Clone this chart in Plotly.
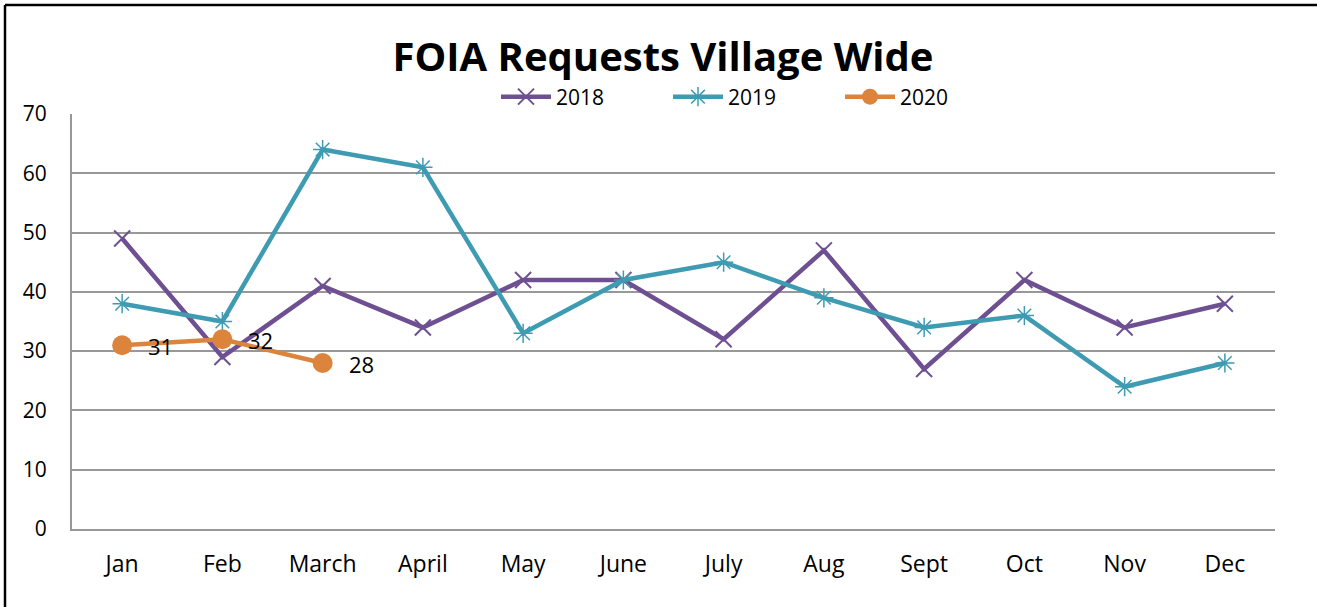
import plotly.graph_objects as go

months = ["Jan", "Feb", "March", "April", "May", "June", "July", "Aug", "Sept", "Oct", "Nov", "Dec"]
y2018 = [49, 29, 41, 34, 42, 42, 32, 47, 27, 42, 34, 38]
y2019 = [38, 35, 64, 61, 33, 42, 45, 39, 34, 36, 24, 28]
y2020 = [31, 32, 28]
yticks = [0, 10, 20, 30, 40, 50, 60, 70]

C18 = "#6E5092"
C19 = "#3E9BB2"
C20 = "#DD843C"
FONT = "Open Sans, sans-serif"

fig = go.Figure()
fig.add_trace(go.Scatter(x=months, y=y2018, name="2018", mode="lines+markers",
                         line=dict(color=C18, width=4.5),
                         marker=dict(symbol="x-thin", size=16, line=dict(color=C18, width=2), color=C18)))
fig.add_trace(go.Scatter(x=months, y=y2019, name="2019", mode="lines+markers",
                         line=dict(color=C19, width=4.5),
                         marker=dict(symbol="asterisk", size=16, line=dict(color=C19, width=1.5), color=C19)))
fig.add_trace(go.Scatter(x=months[:len(y2020)], y=y2020, name="2020", mode="lines+markers",
                         line=dict(color=C20, width=4.5),
                         marker=dict(symbol="circle", size=20, color=C20)))

for m, v in zip(months, y2020):
    fig.add_annotation(x=m, y=v, text=str(v), showarrow=False, xanchor="left",
                       xshift=24, yshift=-1, font=dict(size=22, color="#000000", family=FONT))

L, R, T, B = 72, 1275, 114, 529
W, H = 1317, 607
pw, ph = R - L, B - T
# outer chart border (left and top edges visible)
bx = (5 - L) / pw
by = 1 + (T - 5) / ph
fig.add_shape(type="line", xref="paper", yref="paper", x0=bx, x1=(W + 10 - L) / pw, y0=by, y1=by,
              line=dict(color="#000000", width=2.5))
fig.add_shape(type="line", xref="paper", yref="paper", x0=bx, x1=bx, y0=by, y1=-(H - B + 10) / ph,
              line=dict(color="#000000", width=2.5))

fig.update_layout(
    width=W, height=H,
    margin=dict(l=L, r=W - R, t=T, b=H - B, pad=0),
    paper_bgcolor="white", plot_bgcolor="white",
    title=dict(text="<b>FOIA Requests Village Wide</b>", x=663 / W, xanchor="center",
               y=1 - 57 / H, yanchor="middle", font=dict(size=40, color="#000000", family=FONT)),
    legend=dict(orientation="h", x=(496 - L) / pw, xanchor="left",
                y=1 + (T - 97) / ph, yanchor="middle",
                font=dict(size=21, color="#000000", family=FONT), entrywidth=107, entrywidthmode="pixels",
                itemwidth=50, bgcolor="rgba(0,0,0,0)"),
    showlegend=True,
    font=dict(family=FONT, color="#000000"),
)
fig.update_xaxes(type="category", range=[-0.5, len(months) - 0.5], showgrid=False, showline=True,
                 linecolor="#989898", linewidth=2,
                 ticks="", tickfont=dict(size=23, family=FONT, color="#000000"), ticklabelstandoff=13)
fig.update_yaxes(range=[0, 70], tickvals=yticks, showgrid=True, gridcolor="#989898", gridwidth=2,
                 showline=True, linecolor="#989898", linewidth=2, zeroline=False, ticks="",
                 tickfont=dict(size=21, family=FONT, color="#000000"), ticklabelstandoff=19)

fig.write_html("out.html", config={"displayModeBar": False},
               post_script="document.body.style.margin='0';document.body.style.overflow='hidden';")
